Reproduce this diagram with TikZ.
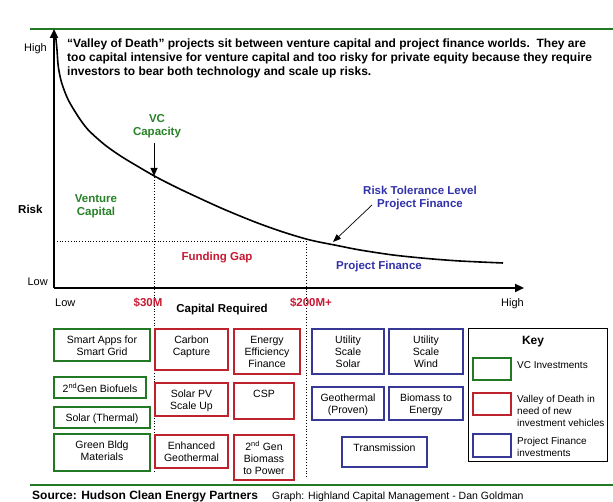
\documentclass[tikz,border=0pt]{standalone}
\usepackage{fontspec}
\setmainfont{Liberation Sans}
\usetikzlibrary{arrows.meta}
\definecolor{dgreen}{RGB}{35,120,35}
\definecolor{dred}{RGB}{190,35,45}
\definecolor{dblue}{RGB}{55,55,150}
\definecolor{tgreen}{RGB}{40,130,40}
\definecolor{tred}{RGB}{200,25,50}
\definecolor{tblue}{RGB}{50,50,170}
\newcommand\invbox[7]{%
  \node[#2, minimum width=#5-#3, minimum height=#6-#4] (#1) at ({(#3+#5)/2},{(#4+#6)/2}) {};
  \node[btxt] (#1t) at ([yshift=-6.6pt]#1.north) {\strut #7};
}
\begin{document}
\begin{tikzpicture}[x=1pt,y=-1pt,
  lbl/.style={inner sep=0, font=\fontsize{11}{13}\selectfont},
  blbl/.style={inner sep=0, font=\fontsize{11.5}{13.5}\selectfont\bfseries},
  mlbl/.style={inner sep=0, align=center, anchor=north, font=\fontsize{11.5}{13.5}\selectfont\bfseries},
  btxt/.style={inner sep=0, align=center, anchor=north, font=\fontsize{10.5}{12}\selectfont},
  ktxt/.style={inner sep=0, align=left, anchor=north west, font=\fontsize{10}{12}\selectfont},
  gbox/.style={draw=dgreen, line width=2pt, inner sep=0},
  rbox/.style={draw=dred, line width=2pt, inner sep=0},
  bbox/.style={draw=dblue, line width=2pt, inner sep=0},
  kbox/.style={draw=black, line width=1pt, inner sep=0},
  rule/.style={draw=dgreen, line width=2pt},
  axis/.style={line width=2.5pt, -{Triangle[length=9pt,width=8pt]}},
  guide/.style={dotted, line width=0.8pt},
  curve/.style={line width=1.6pt},
]
\useasboundingbox (0,0) rectangle (613,502);
\fill[white] (0,0) rectangle (613,502);

% header / footer rules
\coordinate (hl) at (30,29); \coordinate (hr) at (613,29);
\coordinate (fl) at (30,485); \coordinate (fr) at (613,485);
\draw[rule] (hl) -- (hr);
\draw[rule] (fl) -- (fr);

% paragraph
\node[inner sep=0, align=left, anchor=north west, font=\fontsize{12}{14}\selectfont\bfseries] (para) at (67,37.2)
 {\strut “Valley of Death” projects sit between venture capital and project finance worlds.\ \ They are\\
  too capital intensive for venture capital and too risky for private equity because they require\\
  investors to bear both technology and scale up risks.};

% dotted guides
\coordinate (g1t) at (154,177); \coordinate (g1b) at (154,472);
\coordinate (g2t) at (306,241); \coordinate (g2b) at (306,478);
\coordinate (hgl) at (54,241);
\draw[guide] (g1t) -- (g1b);
\draw[guide] (g2t) -- (g2b);
\draw[guide] (hgl) -- (g2t);

% axes
\coordinate (origin) at (54,288);
\coordinate (ytop) at (54,29);
\coordinate (xend) at (524,288);
\draw[axis] (origin) -- (ytop);
\draw[axis] (origin) -- (xend);

% curve
\draw[curve] plot[smooth, tension=0.5] coordinates {(55.5,34) (57,50) (58.3,66.7) (61.7,83) (68.3,100) (78.3,116.7) (88.3,130) (105,145) (121.7,156.7) (138.3,166.7) (154.3,176) (171.7,185) (188.3,193) (221.7,208.3) (255,222) (283,232) (310,240) (337,245.5) (360,250) (393,255) (427,258.5) (460,261) (503,263)};

% arrows
\coordinate (vcs) at (154,143); \coordinate (vce) at (154,176);
\draw[line width=1pt, -{Triangle[length=8pt,width=7pt]}] (vcs) -- (vce);
\coordinate (rts) at (372,205); \coordinate (rte) at (333,242);
\draw[line width=0.7pt, -{Triangle[length=8pt,width=6pt]}] (rts) -- (rte);

% axis labels
\node[lbl, anchor=base east] (yhigh) at (47,52) {High};
\node[blbl, anchor=base west] (risk) at (18,214) {Risk};
\node[lbl, anchor=base east] (ylow) at (48,286) {Low};
\node[lbl, anchor=base west] (xlow) at (55,307) {Low};
\node[lbl, anchor=base east] (xhigh) at (524,307) {High};
\node[blbl, text=tred, anchor=base] (m30) at (148,307) {\$30M};
\node[blbl, text=tred, anchor=base] (m200) at (311,307) {\$200M+};
\node[blbl, anchor=base] (capreq) at (222,313) {Capital Required};

% region labels
\node[mlbl, text=tgreen] (vccap) at (157,112.5) {\strut VC\\Capacity};
\node[mlbl, text=tgreen] (vcap) at (96,192.5) {\strut Venture\\Capital};
\node[blbl, text=tred, anchor=base] (gap) at (217,261) {Funding Gap};
\node[mlbl, text=tblue] (rtl) at (420,184.5) {\strut Risk Tolerance Level\\Project Finance};
\node[blbl, text=tblue, anchor=base] (pf) at (379,270) {Project Finance};

% boxes
\invbox{sa}{gbox}{54}{329}{150}{361}{Smart Apps for\\Smart Grid}
\invbox{bf}{gbox}{54}{377}{146}{398}{2\textsuperscript{nd}Gen Biofuels}
\invbox{st}{gbox}{54}{407}{150}{428}{Solar (Thermal)}
\invbox{gb}{gbox}{54}{434}{150}{471}{Green Bldg\\Materials}
\invbox{cc}{rbox}{155}{329}{228}{370}{Carbon\\Capture}
\invbox{ee}{rbox}{234}{329}{300}{374}{Energy\\Efficiency\\Finance}
\invbox{pv}{rbox}{155}{383}{228}{416}{Solar PV\\Scale Up}
\invbox{csp}{rbox}{234}{383}{294}{419}{CSP}
\invbox{eg}{rbox}{155}{435}{228}{468}{Enhanced\\Geothermal}
\invbox{bm}{rbox}{234}{435}{294}{480}{2\textsuperscript{nd} Gen\\Biomass\\to Power}
\invbox{us}{bbox}{312}{329}{384}{374}{Utility\\Scale\\Solar}
\invbox{uw}{bbox}{389}{329}{463}{374}{Utility\\Scale\\Wind}
\invbox{gp}{bbox}{312}{387}{384}{420}{Geothermal\\(Proven)}
\invbox{be}{bbox}{389}{387}{463}{420}{Biomass to\\Energy}
\invbox{tr}{bbox}{342}{437}{427}{467}{Transmission}

% key
\node[kbox, minimum width=139, minimum height=132] (key) at (537.5,395) {};
\node[inner sep=0, anchor=base, font=\fontsize{12}{14}\selectfont\bfseries] (keyt) at (533,345) {Key};
\node[gbox, minimum width=38, minimum height=22] (kg) at (492,369) {};
\node[rbox, minimum width=38, minimum height=22] (kr) at (492,404) {};
\node[bbox, minimum width=38, minimum height=23] (kb) at (492,445.5) {};
\node[ktxt] (kgt) at (517,359.6) {\strut VC Investments};
\node[ktxt] (krt) at (517,393.6) {\strut Valley of Death in\\need of new\\investment vehicles};
\node[ktxt] (kbt) at (517,435.6) {\strut Project Finance\\investments};

% footer
\node[inner sep=0, anchor=base west, font=\fontsize{12}{14}\selectfont\bfseries] (src) at (32,499) {Source: Hudson Clean Energy Partners};
\node[inner sep=0, anchor=base west, font=\fontsize{10.5}{12}\selectfont] (graph) at (272,499) {Graph: Highland Capital Management - Dan Goldman};
\end{tikzpicture}
\end{document}
